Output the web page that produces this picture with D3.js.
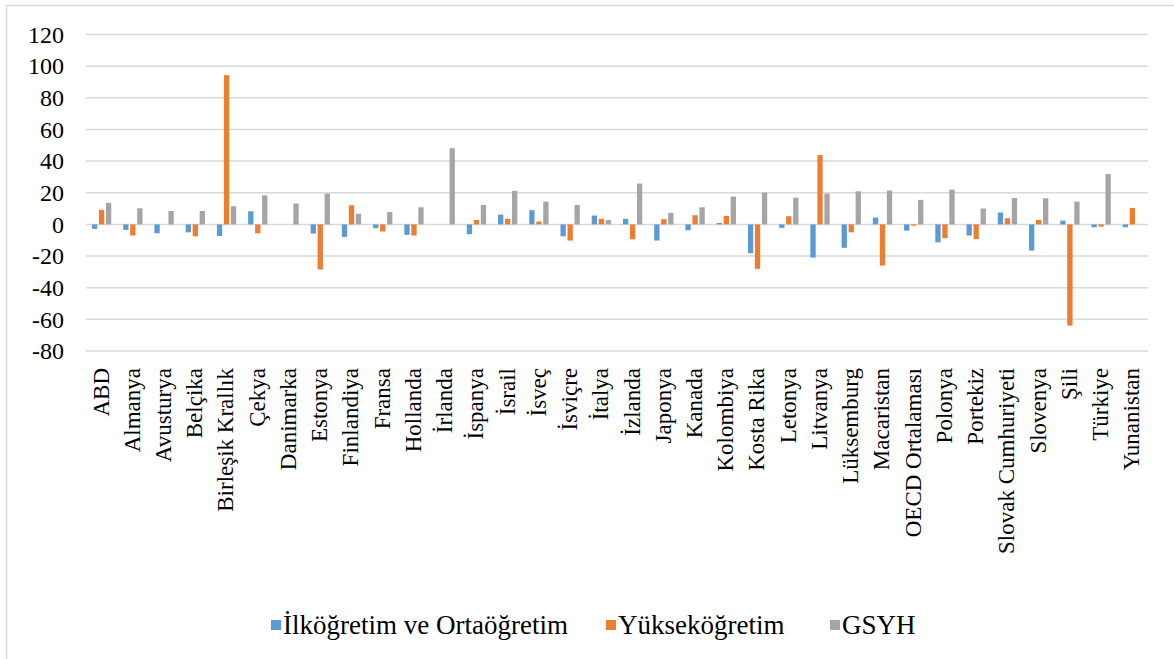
<!DOCTYPE html>
<html>
<head>
<meta charset="utf-8">
<script src="https://cdn.jsdelivr.net/npm/d3@7"></script>
<style>
  body { margin: 0; background: #fff; }
  text { font-family: "Liberation Serif", "Times New Roman", serif; fill: #000; }
</style>
</head>
<body>
<script>
// countries on the x axis
var countries = ["ABD", "Almanya", "Avusturya", "Belçika", "Birleşik Krallık", "Çekya", "Danimarka",
  "Estonya", "Finlandiya", "Fransa", "Hollanda", "İrlanda", "İspanya", "İsrail", "İsveç", "İsviçre",
  "İtalya", "İzlanda", "Japonya", "Kanada", "Kolombiya", "Kosta Rika", "Letonya", "Litvanya",
  "Lüksemburg", "Macaristan", "OECD Ortalaması", "Polonya", "Portekiz", "Slovak Cumhuriyeti",
  "Slovenya", "Şili", "Türkiye", "Yunanistan"];

var ilkOrta = [-2.8, -3.5, -5.6, -5, -7.3, 8.3, 0, -5.8, -7.9, -2.4, -6.6, 0, -6.2, 6.2, 9, -7.5,
  5.6, 3.5, -10.2, -3.7, 0.9, -18.2, -2.2, -21, -14.8, 4.3, -3.9, -11.3, -7, 7.5, -16.5, 2.4, -1.8, -1.8];

var yuksek = [9.2, -7, 0, -7.5, 94.3, -5.6, 0, -28.5, 12.1, -4.5, -7, 0, 2.8, 3.5, 1.8, -10.2,
  3.5, -9.4, 3.3, 5.8, 5.4, -28.1, 5.2, 43.8, -5, -26, -0.8, -8.7, -9.2, 3.9, 2.8, -63.9, -1.4, 10.4];

var gsyh = [13.6, 10.2, 8.5, 8.5, 11.5, 18.4, 13.2, 19.5, 6.7, 7.9, 10.8, 48.2, 12.3, 21.2, 14.4, 12.3,
  2.8, 25.8, 7.3, 10.8, 17.6, 20.1, 16.9, 19.5, 20.9, 21.4, 15.5, 22, 10, 16.7, 16.5, 14.4, 31.8, 0];

var seriesNames = ["İlköğretim ve Ortaöğretim", "Yükseköğretim", "GSYH"];
var seriesColors = ["#5B9BD5", "#ED7D31", "#A5A5A5"];
var yTicks = [120, 100, 80, 60, 40, 20, 0, -20, -40, -60, -80];

var width = 1174, height = 659;
var plot = {left: 86, right: 1148, top: 34.5, bottom: 351};

var svg = d3.select("body").append("svg")
    .attr("width", width)
    .attr("height", height);

// outer chart border
svg.append("rect")
    .attr("x", 6.5).attr("y", 5.5)
    .attr("width", width).attr("height", height)
    .attr("fill", "none")
    .attr("stroke", "#D9D9D9")
    .attr("stroke-width", 1.5);

var x = d3.scaleBand()
    .domain(countries)
    .range([plot.left, plot.right]);

var y = d3.scaleLinear()
    .domain([-80, 120])
    .range([plot.bottom, plot.top]);

// gridlines
svg.append("g")
    .selectAll("line")
    .data(yTicks)
    .join("line")
    .attr("x1", plot.left).attr("x2", plot.right)
    .attr("y1", d => y(d)).attr("y2", d => y(d))
    .attr("stroke", "#D9D9D9")
    .attr("stroke-width", 1.5);

// y axis labels (plain hyphen for negatives, like the original)
var yAxis = svg.append("g")
    .attr("transform", "translate(" + (plot.left - 22) + ",0)")
    .call(d3.axisLeft(y).tickValues(yTicks).tickSize(0).tickPadding(0)
        .tickFormat(d => String(d)));
yAxis.attr("font-family", "'Liberation Serif', serif").attr("font-size", 24);
yAxis.select(".domain").remove();
yAxis.selectAll("text").attr("fill", "#000");

// bars
var slot = 7;
var inner = d3.scaleBand()
    .domain([0, 1, 2])
    .range([x.bandwidth() / 2 - 1.5 * slot, x.bandwidth() / 2 + 1.5 * slot]);

var allSeries = [ilkOrta, yuksek, gsyh];
allSeries.forEach(function(vals, si) {
    svg.append("g")
        .selectAll("rect")
        .data(vals)
        .join("rect")
        .attr("x", (d, i) => x(countries[i]) + inner(si) + 0.85)
        .attr("width", inner.bandwidth() - 1.7)
        .attr("y", d => y(Math.max(0, d)))
        .attr("height", d => Math.abs(y(d) - y(0)))
        .attr("fill", seriesColors[si]);
});

// category labels, rotated
var xAxis = svg.append("g")
    .attr("transform", "translate(0," + 368 + ")")
    .call(d3.axisBottom(x).tickSize(0).tickPadding(0));
xAxis.attr("font-family", "'Liberation Serif', serif").attr("font-size", 23);
xAxis.select(".domain").remove();
xAxis.selectAll("text")
    .attr("fill", "#000")
    .attr("text-anchor", "end")
    .attr("transform", "rotate(-90)")
    .attr("x", 0)
    .attr("y", 0)
    .attr("dy", "0.3em");

// legend
var legendX = [271, 606, 830];
var legend = svg.append("g");
seriesNames.forEach(function(name, i) {
    legend.append("rect")
        .attr("x", legendX[i]).attr("y", 620)
        .attr("width", 10).attr("height", 10)
        .attr("fill", seriesColors[i]);
    legend.append("text")
        .attr("x", legendX[i] + 12).attr("y", 625)
        .attr("dy", "0.35em")
        .style("font-size", "27px")
        .text(name);
});
</script>
</body>
</html>
